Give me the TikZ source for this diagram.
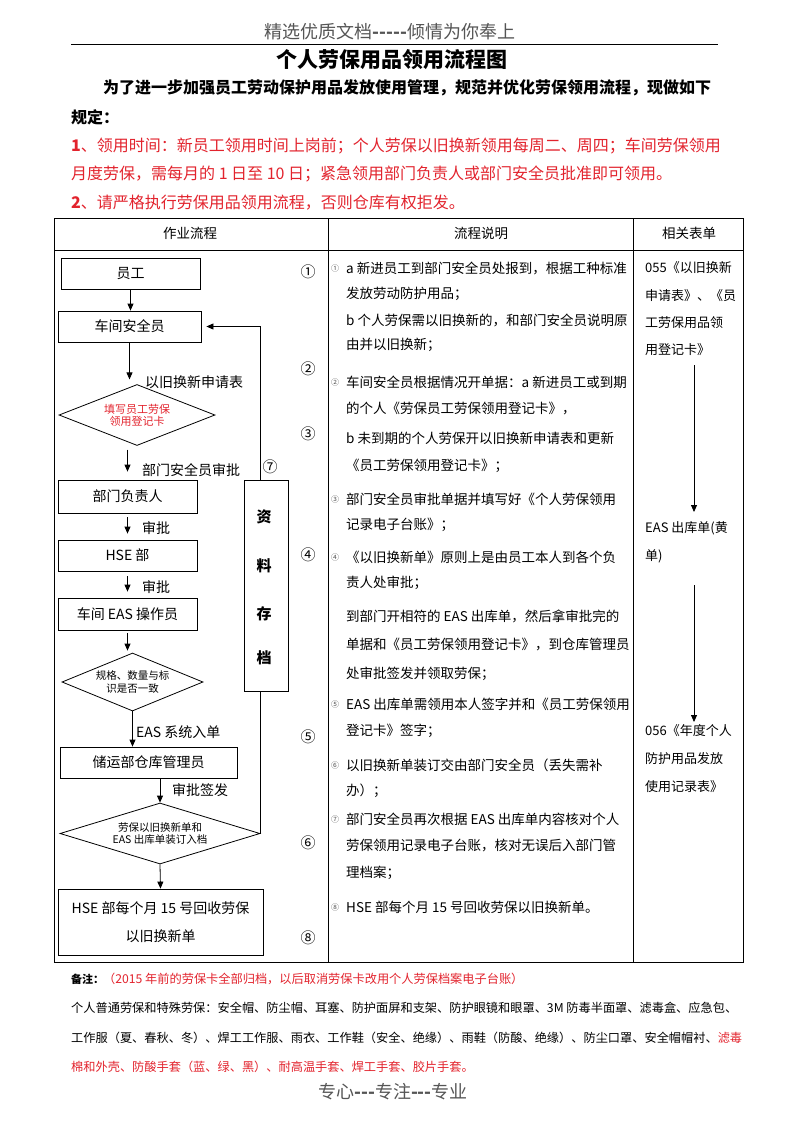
\documentclass[tikz,border=0pt]{standalone}
\usepackage{fontspec}
\setmainfont{Noto Sans CJK SC}
\usetikzlibrary{shapes.geometric,arrows.meta,calc}
\definecolor{myred}{RGB}{226,35,45}
\definecolor{hdgray}{RGB}{85,85,85}
\newcommand\myfs[1]{\fontsize{#1}{#1}\selectfont}
\begin{document}
\begin{tikzpicture}[x=1pt,y=-1pt,
  txt/.style={inner sep=0pt, anchor=west},
  ctxt/.style={inner sep=0pt},
  fbox/.style={draw, line width=0.8pt, inner sep=0pt, font=\myfs{14}},
  dia/.style={draw, diamond, line width=0.8pt, inner sep=0pt},
  dtxt/.style={inner sep=0pt, align=center},
  arr/.style={line width=0.8pt, -{Triangle[length=7pt,width=6pt]}},
  desc/.style={txt, font=\myfs{13.5}},
  smark/.style={ctxt, font=\myfs{8}, text=hdgray},
  rcol/.style={txt, font=\myfs{13}},
  cnum/.style={ctxt, font=\myfs{15}},
  foot/.style={txt, font=\myfs{12.2}},
  tline/.style={line width=0.9pt}
]
\useasboundingbox (0,0) rectangle (793,1122);

% header
\node[ctxt, text=hdgray, font=\myfs{18}] (hdr) at (390,32) {精选优质文档\textbf{-{}-{}-{}-{}-}倾情为你奉上};
\coordinate (hl1) at (71,44); \coordinate (hl2) at (718,44);
\draw[line width=1pt] (hl1) -- (hl2);
\node[ctxt, font=\bfseries\myfs{21}] (title) at (392,60) {个人劳保用品领用流程图};
\node[txt, font=\bfseries\myfs{16}] (intro1) at (103,88) {为了进一步加强员工劳动保护用品发放使用管理，规范并优化劳保领用流程，现做如下};
\node[txt, font=\bfseries\myfs{16}] (intro2) at (71,117) {规定：};
\node[txt, font=\myfs{16}, text=myred] (r1) at (71,146) {\textbf{1}、领用时间：新员工领用时间上岗前；个人劳保以旧换新领用每周二、周四；车间劳保领用};
\node[txt, font=\myfs{16}, text=myred] (r2) at (71,174) {月度劳保，需每月的 1 日至 10 日；紧急领用部门负责人或部门安全员批准即可领用。};
\node[txt, font=\myfs{16}, text=myred] (r3) at (71,203) {\textbf{2}、请严格执行劳保用品领用流程，否则仓库有权拒发。};

% table
\draw[tline] (54,218) rectangle (743,962);
\draw[tline] (54,250) -- (743,250);
\draw[tline] (328,218) -- (328,962);
\draw[tline] (633,218) -- (633,962);
\node[ctxt, font=\myfs{13.5}] (h1) at (190,233) {作业流程};
\node[ctxt, font=\myfs{13.5}] (h2) at (481,233) {流程说明};
\node[ctxt, font=\myfs{13.5}] (h3) at (689,233) {相关表单};

% flow boxes
\node[fbox, minimum width=139, minimum height=31] (yg) at (130.5,273.5) {员工};
\node[fbox, minimum width=143, minimum height=31] (cj) at (129.5,326.5) {车间安全员};
\node[dia, minimum width=156, minimum height=61] (d1) at (137,415) {};
\node[dtxt, font=\myfs{11}, text=myred] (d1t) at (d1) {填写员工劳保\\[1pt]领用登记卡};
\node[fbox, minimum width=139, minimum height=33] (bm) at (127.5,496.5) {部门负责人};
\node[fbox, minimum width=139, minimum height=31] (hse) at (127.5,555.5) {HSE 部};
\node[fbox, minimum width=139, minimum height=32] (eas) at (127.5,614) {车间 EAS 操作员};
\node[dia, minimum width=141, minimum height=58] (d2) at (132.5,682) {};
\node[dtxt, font=\myfs{10.5}] (d2t) at (d2) {规格、数量与标\\[2pt]识是否一致};
\node[fbox, minimum width=177, minimum height=31] (cy) at (148.5,762.5) {储运部仓库管理员};
\node[dia, minimum width=200, minimum height=61] (d3) at (160,833.5) {};
\node[dtxt, font=\myfs{10.5}] (d3t) at (d3) {劳保以旧换新单和\\[2pt]EAS 出库单装订入档};
\node[fbox, minimum width=205, minimum height=66, align=center] (fin) at (160.5,922) {HSE 部每个月 15 号回收劳保\\[14pt]以旧换新单};

% arrows
\draw[arr] (yg.south) -- (yg.south |- cj.north);
\draw[arr] (cj.south) -- ($(cj.south)+(0,37)$);
\draw[arr] ($(bm.north)+(0,-30)$) -- ($(bm.north)+(0,-8)$);
\draw[arr, shorten <=4pt, shorten >=6pt] (bm.south) -- (hse.north);
\draw[arr, shorten <=5pt, shorten >=6pt] (hse.south) -- (eas.north);
\draw[arr, shorten <=3pt, shorten >=2pt] (eas.south) -- (eas.south |- d2.north);
\draw[arr] (d2.south) -- (d2.south |- cy.north);
\draw[arr] (d3.north |- cy.south) -- (d3.north);
\draw[arr] (d3.south) -- (fin.north);
\draw[arr, shorten >=5pt] (d3.east) -- (d3.east |- cj.east) -- (cj.east);

% archive box
\node[draw, fill=white, line width=0.8pt, minimum width=44, minimum height=211, inner sep=0pt] (arch) at (266,585.5) {};
\node[ctxt, font=\bfseries\myfs{15}] (a1) at (264,517) {资};
\node[ctxt, font=\bfseries\myfs{15}] (a2) at (264,566) {料};
\node[ctxt, font=\bfseries\myfs{15}] (a3) at (264,614) {存};
\node[ctxt, font=\bfseries\myfs{15}] (a4) at (264,658) {档};

% flow labels
\node[txt, font=\myfs{14}] (l1) at (145,382) {以旧换新申请表};
\node[txt, font=\myfs{14}] (l2) at (142,470) {部门安全员审批};
\node[txt, font=\myfs{14}] (l3) at (142,528) {审批};
\node[txt, font=\myfs{14}] (l4) at (142,587) {审批};
\node[txt, font=\myfs{14}] (l5) at (136,732) {EAS 系统入单};
\node[txt, font=\myfs{14}] (l6) at (172,790) {审批签发};

% circled numbers
\node[cnum] (c1) at (308,272) {①};
\node[cnum] (c2) at (308,369) {②};
\node[cnum] (c3) at (308,434) {③};
\node[cnum] (c4) at (308,555) {④};
\node[cnum] (c5) at (308,737) {⑤};
\node[cnum] (c6) at (308,843) {⑥};
\node[cnum] (c7) at (270,467) {⑦};
\node[cnum] (c8) at (308,938) {⑧};

% description column
\node[smark] (m1) at (335,268) {①};
\node[desc] (t1) at (346,268) {a 新进员工到部门安全员处报到，根据工种标准};
\node[desc] (t2) at (346,294) {发放劳动防护用品；};
\node[desc] (t3) at (346,320) {b 个人劳保需以旧换新的，和部门安全员说明原};
\node[desc] (t4) at (346,345) {由并以旧换新；};
\node[smark] (m2) at (335,382) {②};
\node[desc] (t5) at (346,382) {车间安全员根据情况开单据：a 新进员工或到期};
\node[desc] (t6) at (346,409) {的个人《劳保员工劳保领用登记卡》，};
\node[desc] (t7) at (346,438) {b 未到期的个人劳保开以旧换新申请表和更新};
\node[desc] (t8) at (346,466) {《员工劳保领用登记卡》；};
\node[smark] (m3) at (335,499) {③};
\node[desc] (t9) at (346,499) {部门安全员审批单据并填写好《个人劳保领用};
\node[desc] (t10) at (346,525) {记录电子台账》；};
\node[smark] (m4) at (335,557) {④};
\node[desc] (t11) at (346,557) {《以旧换新单》原则上是由员工本人到各个负};
\node[desc] (t12) at (346,583) {责人处审批；};
\node[desc] (t13) at (346,616) {到部门开相符的 EAS 出库单，然后拿审批完的};
\node[desc] (t14) at (346,645) {单据和《员工劳保领用登记卡》，到仓库管理员};
\node[desc] (t15) at (346,674) {处审批签发并领取劳保；};
\node[smark] (m5) at (335,704) {⑤};
\node[desc] (t16) at (346,704) {EAS 出库单需领用本人签字并和《员工劳保领用};
\node[desc] (t17) at (346,731) {登记卡》签字；};
\node[smark] (m6) at (335,765) {⑥};
\node[desc] (t18) at (346,765) {以旧换新单装订交由部门安全员（丢失需补};
\node[desc] (t19) at (346,791) {办）；};
\node[smark] (m7) at (335,819) {⑦};
\node[desc] (t20) at (346,819) {部门安全员再次根据 EAS 出库单内容核对个人};
\node[desc] (t21) at (346,846) {劳保领用记录电子台账，核对无误后入部门管};
\node[desc] (t22) at (346,873) {理档案；};
\node[smark] (m8) at (335,907) {⑧};
\node[desc] (t23) at (346,907) {HSE 部每个月 15 号回收劳保以旧换新单。};

% related forms column
\node[rcol] (f1) at (645,268) {055《以旧换新};
\node[rcol] (f2) at (645,296) {申请表》、《员};
\node[rcol] (f3) at (645,323) {工劳保用品领};
\node[rcol] (f4) at (645,350) {用登记卡》};
\coordinate (fa1) at (694,365); \coordinate (fa2) at (694,512);
\draw[arr] (fa1) -- (fa2);
\node[rcol] (f5) at (645,528) {EAS 出库单(黄};
\node[rcol] (f6) at (645,556) {单)};
\coordinate (fb1) at (694,585); \coordinate (fb2) at (694,722);
\draw[arr] (fb1) -- (fb2);
\node[rcol] (f7) at (645,731) {056《年度个人};
\node[rcol] (f8) at (645,759) {防护用品发放};
\node[rcol] (f9) at (645,787) {使用记录表》};

% footer notes
\node[txt, font=\bfseries\myfs{11}] (n0) at (71,979) {备注：};
\node[foot, text=myred] (n1) at (103,979) {（2015 年前的劳保卡全部归档，以后取消劳保卡改用个人劳保档案电子台账）};
\node[foot] (n2) at (71,1008) {个人普通劳保和特殊劳保：安全帽、防尘帽、耳塞、防护面屏和支架、防护眼镜和眼罩、3M 防毒半面罩、滤毒盒、应急包、};
\node[foot] (n3) at (71,1038) {工作服（夏、春秋、冬）、焊工工作服、雨衣、工作鞋（安全、绝缘）、雨鞋（防酸、绝缘）、防尘口罩、安全帽帽衬、\textcolor{myred}{滤毒}};
\node[foot, text=myred] (n4) at (71,1067) {棉和外壳、防酸手套（蓝、绿、黑）、耐高温手套、焊工手套、胶片手套。};
\node[ctxt, text=hdgray, font=\myfs{18}] (ftr) at (393,1092) {专心\textbf{-{}-{}-}专注\textbf{-{}-{}-}专业};
\end{tikzpicture}
\end{document}
